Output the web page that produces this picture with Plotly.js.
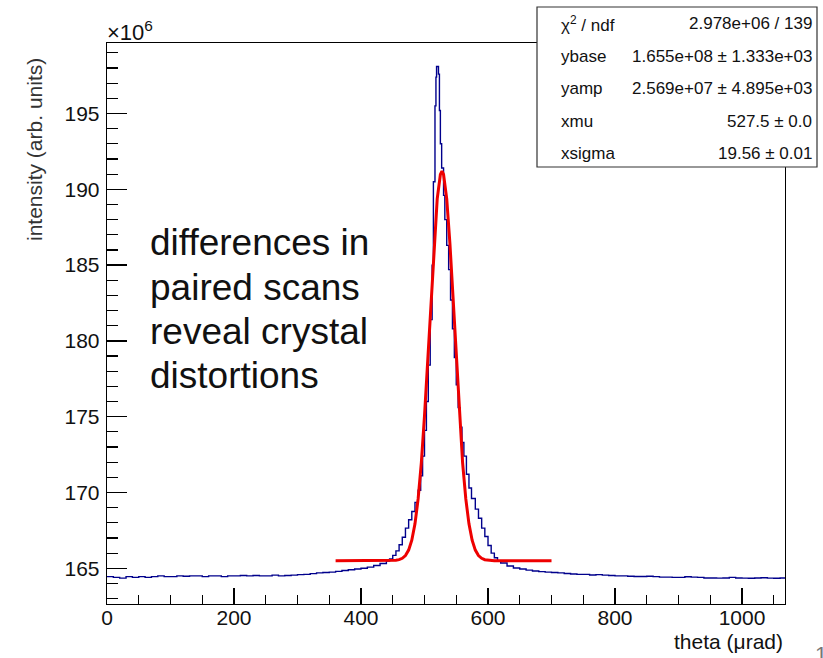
<!DOCTYPE html>
<html><head><meta charset="utf-8">
<script src="https://cdn.plot.ly/plotly-3.0.1.min.js"></script>
<style>html,body{margin:0;padding:0;background:#fff}</style>
</head><body><div id="chart" style="width:823px;height:658px"></div>
<script>
// Measured histogram (bin left edges, theta in µrad) and intensity in units of 1e6
const thetaBins = [0,10,20,30,40,50,60,70,80,90,
  100,110,120,130,140,150,160,170,180,190,
  200,210,220,230,240,250,260,270,280,290,
  300,310,320,330,340,350,360,370,380,390,
  400,410,420,430,440,445,450,455,460,465,
  470,475,480,485,490,494,497,500,503,506,
  509,512,514,516.5,518,519,522,523.5,525,527,
  530,532,535,538,541,544,547,550,553,556,
  559,562,566,570,574,580,585,590,595,600,
  605,610,615,620,630,640,650,660,670,680,
  690,700,710,720,730,740,750,760,770,780,
  790,800,810,820,830,840,850,860,870,880,
  890,900,910,920,930,940,950,960,970,980,
  990,1000,1010,1020,1030,1040,1050,1060,1068];
const intensity = [164.45,164.40,164.35,164.45,164.40,164.45,164.40,164.45,164.50,164.45,
  164.45,164.50,164.48,164.50,164.50,164.45,164.50,164.50,164.45,164.50,
  164.50,164.52,164.50,164.52,164.50,164.50,164.55,164.50,164.52,164.55,
  164.58,164.60,164.65,164.70,164.72,164.75,164.80,164.85,164.90,164.95,
  165.00,165.08,165.18,165.32,165.48,165.62,165.85,166.15,166.55,167.05,
  167.65,168.20,168.75,169.35,170.15,171.10,172.40,174.10,176.00,178.40,
  181.40,185.00,190.50,195.50,197.40,198.10,197.60,195.20,193.00,191.40,
  189.60,188.00,186.30,184.70,182.70,180.80,178.90,177.10,175.60,174.30,
  173.30,172.40,171.20,170.30,169.60,168.90,168.30,167.65,167.10,166.50,
  166.00,165.70,165.50,165.35,165.15,165.02,164.95,164.88,164.82,164.78,
  164.75,164.72,164.70,164.66,164.62,164.60,164.60,164.56,164.58,164.55,
  164.52,164.50,164.50,164.48,164.46,164.46,164.48,164.45,164.42,164.42,
  164.40,164.40,164.44,164.42,164.40,164.36,164.36,164.35,164.36,164.40,
  164.36,164.35,164.34,164.36,164.38,164.35,164.34,164.36,164.36];
// Fitted curve as drawn (red)
const fitTheta = [360,450,455,460,465,470,475,480,485,490,495,500,505,510,515,520,525,527.5,
  530,535,540,545,550,555,560,565,570,575,580,585,590,595,600,610,700];
const fitValues = [165.50,165.51,165.53,165.57,165.66,165.84,166.20,166.85,167.93,169.59,171.96,175.06,178.76,182.72,186.44,189.37,190.98,191.19,
  190.98,189.37,186.44,182.72,178.76,175.06,171.96,169.59,167.93,166.85,166.20,165.84,165.66,165.57,165.53,165.50,165.50];
const xTickStep = 200, xMinorStep = 50;
const yTickStep = 5, yMinorStep = 1;
const statLabels = ["\u03c7<sup>2</sup> / ndf","ybase","yamp","xmu","xsigma"];
const statValues = ["2.978e+06 / 139","1.655e+08 \u00b1 1.333e+03","2.569e+07 \u00b1 4.895e+03","527.5 \u00b1 0.0","19.56 \u00b1 0.01"];
const noteLines = ["differences in","paired scans","reveal crystal","distortions"];

const W = 823, H = 658;
const M = {l:107, r:38, t:43, b:54};
const PW = W - M.l - M.r, PH = H - M.t - M.b;
const px = x => (x - M.l) / PW;
const py = y => (H - M.b - y) / PH;
const FONT = "Liberation Sans, Arial, Helvetica, sans-serif";

const traces = [
  {x: thetaBins, y: intensity, type:'scatter', mode:'lines', line:{shape:'hv', color:'rgb(0,0,140)', width:1.4}, hoverinfo:'skip'},
  {x: fitTheta, y: fitValues, type:'scatter', mode:'lines', line:{shape:'linear', color:'rgb(238,0,0)', width:3}, hoverinfo:'skip'}
];

const annotations = [];
const rowY = [24, 56, 88, 121, 153];
statLabels.forEach((t,i)=>{
  annotations.push({xref:'paper', yref:'paper', x:px(559), y:py(rowY[i]), xanchor:'left', yanchor:'middle', text:t, showarrow:false, font:{family:FONT, size:17, color:'#111'}});
  annotations.push({xref:'paper', yref:'paper', x:px(814), y:py(rowY[i]), xanchor:'right', yanchor:'middle', text:statValues[i], showarrow:false, font:{family:FONT, size:17, color:'#111'}});
});
const noteY = [243, 287, 331, 375];
noteLines.forEach((t,i)=>{
  annotations.push({xref:'paper', yref:'paper', x:px(148), y:py(noteY[i]), xanchor:'left', yanchor:'middle', text:t, showarrow:false, font:{family:FONT, size:37, color:'#111'}});
});
annotations.push({xref:'paper', yref:'paper', x:px(105), y:py(31), xanchor:'left', yanchor:'middle', text:'\u00d710<sup>6</sup>', showarrow:false, font:{family:FONT, size:22, color:'#111'}});
annotations.push({xref:'paper', yref:'paper', x:px(35), y:py(150), xanchor:'center', yanchor:'middle', textangle:-90, text:'intensity (arb. units)', showarrow:false, font:{family:FONT, size:21, color:'#333'}});
annotations.push({xref:'paper', yref:'paper', x:px(785), y:py(641), xanchor:'right', yanchor:'middle', text:'theta (\u03bcrad)', showarrow:false, font:{family:FONT, size:21, color:'#111'}});
annotations.push({xref:'paper', yref:'paper', x:px(813), y:py(654), xanchor:'left', yanchor:'middle', text:'1', showarrow:false, font:{family:FONT, size:22, color:'#777'}});

const layout = {
  width:W, height:H, margin:M, paper_bgcolor:'#fff', plot_bgcolor:'#fff', showlegend:false,
  font:{family:FONT, size:21, color:'#111'},
  xaxis:{range:[0,1067.7], tick0:0, dtick:xTickStep, ticks:'inside', ticklen:16, tickwidth:1.3, tickcolor:'#000',
    showline:true, mirror:true, linecolor:'#000', linewidth:1.3, showgrid:false, zeroline:false,
    tickfont:{family:FONT, size:21, color:'#111'}, ticklabelstandoff:-6,
    minor:{ticks:'inside', ticklen:9, dtick:xMinorStep, tick0:0, tickwidth:1.2, tickcolor:'#000', showgrid:false}},
  yaxis:{range:[162.645,199.65], tick0:0, dtick:yTickStep, ticks:'inside', ticklen:20, tickwidth:1.3, tickcolor:'#000',
    showline:true, mirror:true, linecolor:'#000', linewidth:1.3, showgrid:false, zeroline:false,
    tickfont:{family:FONT, size:21, color:'#111'}, ticklabelstandoff:2,
    minor:{ticks:'inside', ticklen:11, dtick:yMinorStep, tick0:0, tickwidth:1.2, tickcolor:'#000', showgrid:false}},
  shapes:[{type:'rect', xref:'paper', yref:'paper', x0:px(537), x1:px(817), y0:py(167), y1:py(7), fillcolor:'#fff', line:{color:'#333', width:1.2}, layer:'above'}],
  annotations: annotations
};
Plotly.newPlot('chart', traces, layout, {staticPlot:true, displayModeBar:false});
</script></body></html>
